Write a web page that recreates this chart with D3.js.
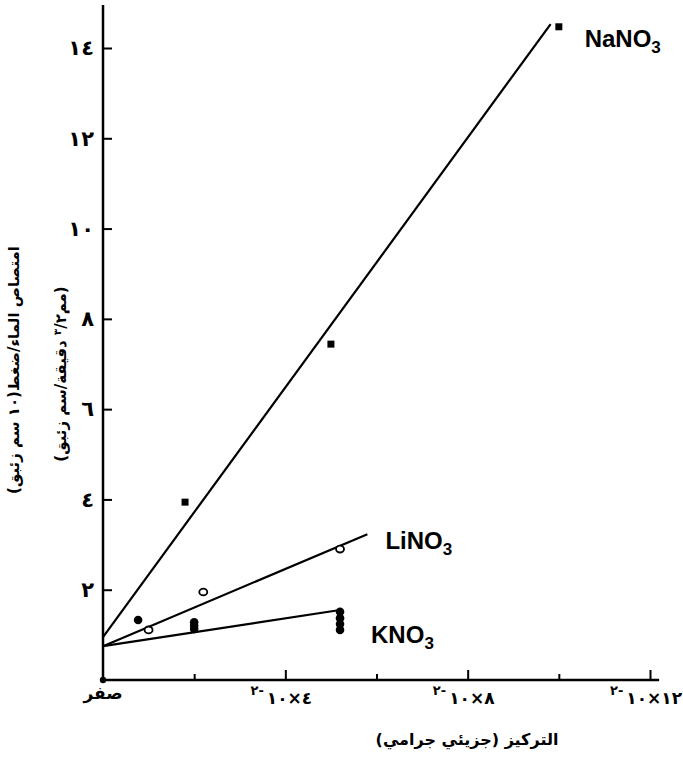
<!DOCTYPE html>
<html>
<head>
<meta charset="utf-8">
<script src="https://cdn.jsdelivr.net/npm/d3@7"></script>
<style>
  body { margin: 0; background: #fff; }
  svg { display: block; }
  .ar { font-family: "DejaVu Sans", sans-serif; font-weight: bold; }
  .lbl { font-family: "Liberation Sans", Arial, sans-serif; font-weight: bold; }
</style>
</head>
<body>
<svg id="chart" width="683" height="758"></svg>
<script>
// concentration (x 10^-2 mol) vs water uptake
const naX = [1.8, 5.0, 10.0];
const naY = [3.94, 7.44, 14.47];
const liX = [1.0, 2.2, 5.2];
const liY = [1.11, 1.95, 2.90];
const kX = [0.77, 2.0, 2.0, 2.0, 5.2, 5.2, 5.2, 5.2];
const kY = [1.33, 1.28, 1.20, 1.13, 1.51, 1.37, 1.24, 1.11];

// fitted straight lines: [start, end]
const naFit = [[0, 0.95], [9.82, 14.53]];
const liFit = [[0, 0.75], [5.8, 3.23]];
const kFit = [[0, 0.75], [5.2, 1.55]];

const seriesNames = ["NaNO", "LiNO", "KNO"];

const xTicks = [0, 2, 4, 6, 8, 10, 12];
const xTickLabels = ["صفر", "", "٤", "", "٨", "", "١٢"];
const yTicks = [2, 4, 6, 8, 10, 12, 14];
const yTickLabels = ["٢", "٤", "٦", "٨", "١٠", "١٢", "١٤"];

const xTitle = "التركيز (جزيئي جرامي)";
const yTitle1 = "امتصاص الماء/ضغط(١٠ سم زئبق)";
const yTitle2a = "(مم";
const yTitle2sup = "٣";
const yTitle2b = "/٢ دقيقة/سم زئبق)";

const svg = d3.select("#chart");

let x = d3.scaleLinear()
    .domain([0, 12])
    .range([103, 650]);

let y = d3.scaleLinear()
    .domain([0, 14])
    .range([680, 48]);

// axis lines
svg.append("line")
    .attr("x1", x(0)).attr("x2", x(0))
    .attr("y1", y(0) + 2).attr("y2", y(14.95))
    .style("stroke", "#000").style("stroke-width", "2.5px");

svg.append("line")
    .attr("x1", x(0) - 1).attr("x2", x(12.2))
    .attr("y1", y(0)).attr("y2", y(0))
    .style("stroke", "#000").style("stroke-width", "2.5px");

svg.append("circle")
    .attr("cx", x(0)).attr("cy", y(0))
    .attr("r", 3.2)
    .style("fill", "#000");

// y axis ticks
let yAxis = d3.axisLeft(y)
    .tickValues(yTicks)
    .tickSizeInner(-9)
    .tickSizeOuter(0)
    .tickPadding(9)
    .tickFormat(function (d, i) { return yTickLabels[i]; });

let gy = svg.append("g")
    .attr("transform", "translate(" + x(0) + ",0)")
    .call(yAxis);
gy.select(".domain").remove();
gy.selectAll("line").style("stroke-width", "2px");
gy.selectAll("text")
    .attr("class", "ar")
    .style("font-size", "21px")
    .style("fill", "#000");

// x axis ticks (labelled ones longer)
let xAxis = d3.axisBottom(x)
    .tickValues(xTicks.slice(1))
    .tickSizeInner(-6)
    .tickSizeOuter(0)
    .tickFormat("");

let gx = svg.append("g")
    .attr("transform", "translate(0," + y(0) + ")")
    .call(xAxis);
gx.select(".domain").remove();
gx.selectAll("line")
    .attr("y2", function (d) { return d % 4 === 0 ? -10 : -6; })
    .style("stroke-width", "2px");

// x tick labels:  ٢- superscript, then ١٠×n
xTicks.forEach(function (d, i) {
    let lab = xTickLabels[i];
    if (!lab) return;
    if (d === 0) {
        svg.append("text")
            .attr("class", "ar")
            .attr("x", x(0))
            .attr("y", y(0) + 19)
            .attr("text-anchor", "middle")
            .style("font-size", "17px")
            .text(lab);
        return;
    }
    let g = svg.append("g");
    let main = g.append("text")
        .attr("class", "ar")
        .attr("x", 0)
        .attr("y", y(0) + 24)
        .style("font-size", "17px")
        .style("direction", "ltr")
        .style("unicode-bidi", "bidi-override")
        .text("١٠×" + lab);
    let sup = g.append("text")
        .attr("class", "ar")
        .attr("x", -3)
        .attr("y", y(0) + 15)
        .attr("text-anchor", "end")
        .style("font-size", "13px")
        .style("direction", "ltr")
        .style("unicode-bidi", "bidi-override")
        .text("٢-");
    let wm = main.node().getComputedTextLength();
    let ws = sup.node().getComputedTextLength() + 3;
    g.attr("transform", "translate(" + (x(d) - (wm + ws) / 2 + ws - 4) + ",0)");
});

// axis titles
svg.append("text")
    .attr("class", "ar")
    .attr("x", 467)
    .attr("y", 745)
    .attr("text-anchor", "middle")
    .attr("direction", "rtl")
    .style("font-size", "16px")
    .text(xTitle);

svg.append("text")
    .attr("class", "ar")
    .attr("transform", "translate(19,370) rotate(-90)")
    .attr("text-anchor", "middle")
    .attr("direction", "rtl")
    .style("font-size", "15px")
    .text(yTitle1);

let t2 = svg.append("text")
    .attr("class", "ar")
    .attr("transform", "translate(66,374) rotate(-90)")
    .attr("text-anchor", "middle")
    .attr("direction", "rtl")
    .style("font-size", "15px");
t2.append("tspan").text(yTitle2a);
t2.append("tspan").attr("baseline-shift", "super").style("font-size", "10px").text(yTitle2sup);
t2.append("tspan").text(yTitle2b);

// fitted lines
let line = d3.line()
    .x(function (d) { return x(d[0]); })
    .y(function (d) { return y(d[1]); });

[naFit, liFit, kFit].forEach(function (f) {
    svg.append("path")
        .attr("d", line(f))
        .style("fill", "none")
        .style("stroke", "#000")
        .style("stroke-width", "2.2px");
});

// NaNO3: filled squares
svg.selectAll("rect.na")
    .data(naX)
    .enter().append("rect")
    .attr("class", "na")
    .attr("x", function (d) { return x(d) - 3.5; })
    .attr("y", function (d, i) { return y(naY[i]) - 3.5; })
    .attr("width", 7)
    .attr("height", 7)
    .style("fill", "#000");

// LiNO3: open circles
svg.selectAll("ellipse.li")
    .data(liX)
    .enter().append("ellipse")
    .attr("class", "li")
    .attr("cx", function (d) { return x(d); })
    .attr("cy", function (d, i) { return y(liY[i]); })
    .attr("rx", 4)
    .attr("ry", 3.4)
    .style("fill", "#fff")
    .style("stroke", "#000")
    .style("stroke-width", "1.8px");

// KNO3: filled circles
svg.selectAll("circle.k")
    .data(kX)
    .enter().append("circle")
    .attr("class", "k")
    .attr("cx", function (d) { return x(d); })
    .attr("cy", function (d, i) { return y(kY[i]); })
    .attr("r", 4.3)
    .style("fill", "#000");

// series labels next to line ends
let labelAt = [
    [naFit[1], 34, 23],
    [liFit[1], 18, 15],
    [kFit[1], 31, 33]
];
labelAt.forEach(function (l, i) {
    let t = svg.append("text")
        .attr("class", "lbl")
        .attr("x", x(l[0][0]) + l[1])
        .attr("y", y(l[0][1]) + l[2])
        .style("font-size", "24px");
    t.append("tspan").text(seriesNames[i]);
    t.append("tspan")
        .attr("dy", 6)
        .style("font-size", "17px")
        .text("3");
});
</script>
</body>
</html>
